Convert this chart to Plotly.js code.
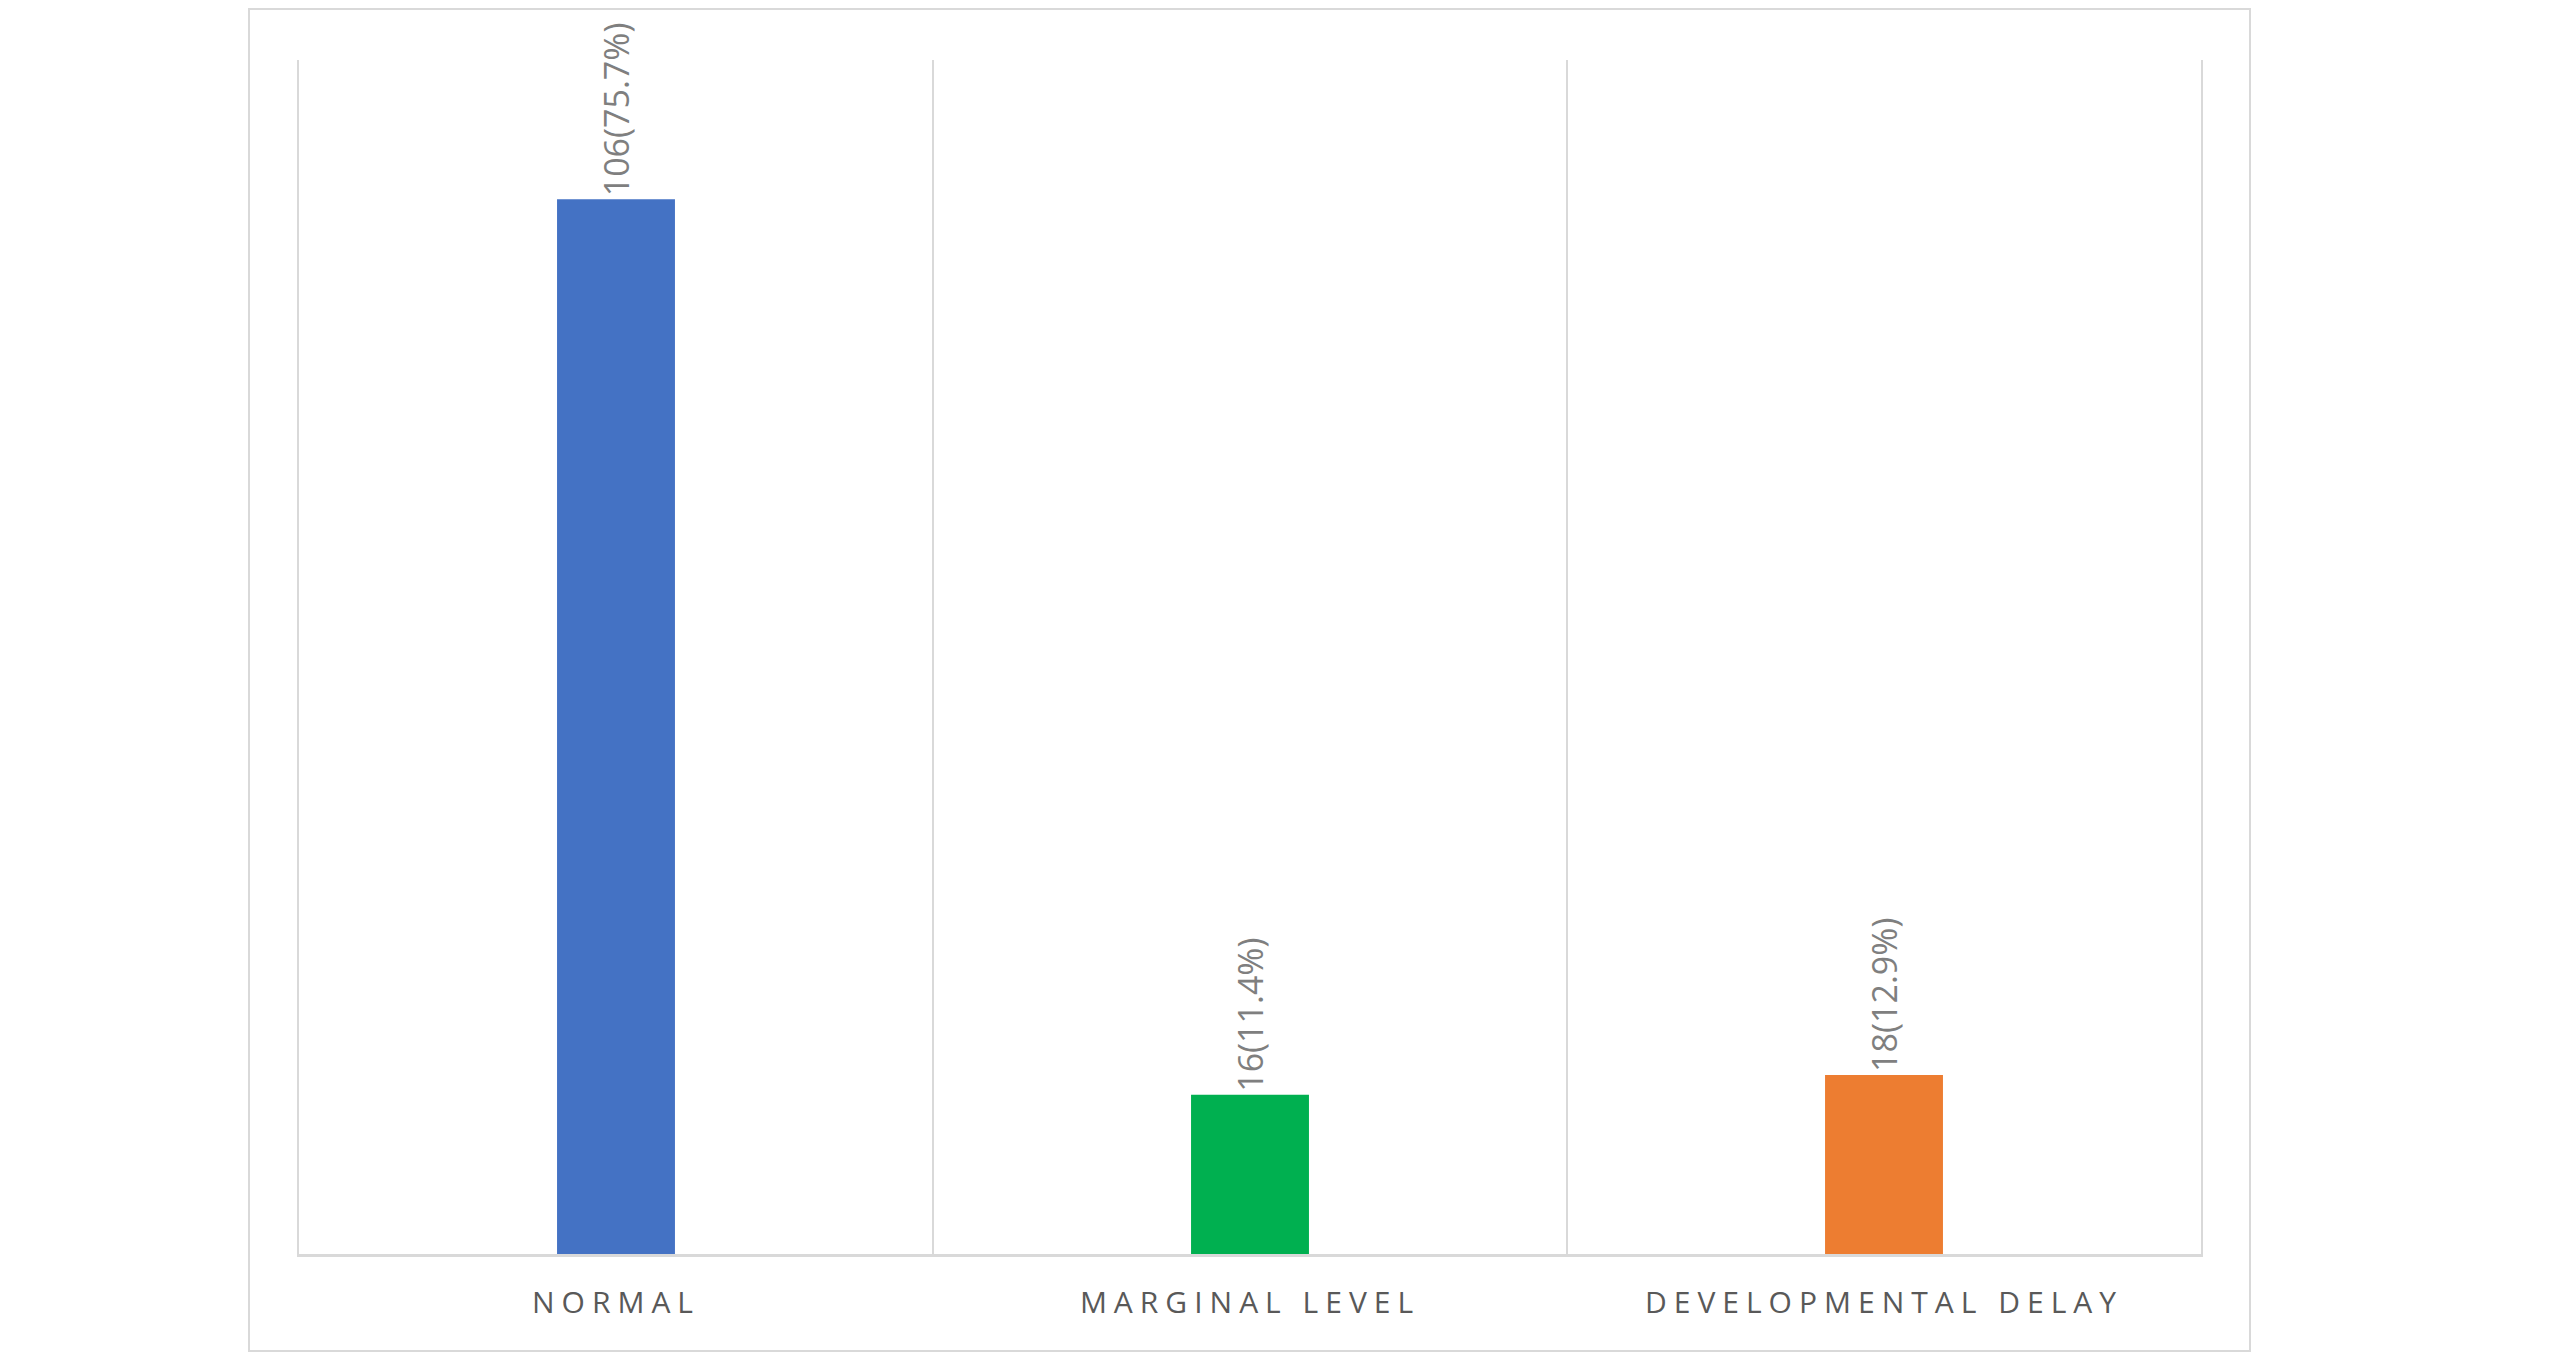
<!DOCTYPE html>
<html>
<head>
<meta charset="utf-8">
<script src="https://cdn.plot.ly/plotly-3.0.1.min.js"></script>
<style>
  html, body { margin: 0; padding: 0; background: #ffffff; width: 2560px; height: 1367px; overflow: hidden; }
  #frame { position: absolute; left: 248px; top: 8px; width: 1999px; height: 1340px; border: 2px solid #d9d9d9; background: #fff; }
  #chart { width: 1999px; height: 1340px; }
  .xtick text { letter-spacing: 7px; }
</style>
</head>
<body>
<div id="frame"><div id="chart"></div></div>
<script>
const categories = ["NORMAL", "MARGINAL LEVEL", "DEVELOPMENTAL DELAY"];
const counts = [106, 16, 18];
const percents = ["75.7", "11.4", "12.9"];
const barColors = ["#4472C4", "#00B050", "#ED7D31"];

const labels = counts.map((c, i) => c + "(" + percents[i] + "%)");

const trace = {
  type: "bar",
  x: categories,
  y: counts,
  width: 0.186,
  marker: { color: barColors, line: { width: 0 } },
  text: labels,
  textposition: "outside",
  textangle: -90,
  constraintext: "none",
  cliponaxis: false,
  textfont: { family: "Open Sans, Liberation Sans, sans-serif", size: 34, color: "#7f7f7f" },
  hoverinfo: "none"
};

const layout = {
  width: 1999,
  height: 1340,
  margin: { l: 49, r: 48, t: 50, b: 96 },
  paper_bgcolor: "#ffffff",
  plot_bgcolor: "#ffffff",
  showlegend: false,
  xaxis: {
    type: "category",
    range: [-0.5, 2.5],
    tickson: "boundaries",
    showgrid: true,
    gridcolor: "#d9d9d9",
    gridwidth: 2,
    showline: true,
    linecolor: "#d9d9d9",
    linewidth: 3,
    ticks: "",
    ticklabelstandoff: 20,
    tickfont: { family: "Open Sans, Liberation Sans, sans-serif", size: 30, color: "#595959" },
    zeroline: false,
    fixedrange: true
  },
  yaxis: {
    range: [0, 120],
    showgrid: false,
    zeroline: false,
    showticklabels: false,
    ticks: "",
    showline: true,
    mirror: true,
    linecolor: "#d9d9d9",
    linewidth: 2,
    fixedrange: true
  },
  font: { family: "Open Sans, Liberation Sans, sans-serif" }
};

Plotly.newPlot("chart", [trace], layout, { displayModeBar: false, staticPlot: true });
</script>
</body>
</html>
